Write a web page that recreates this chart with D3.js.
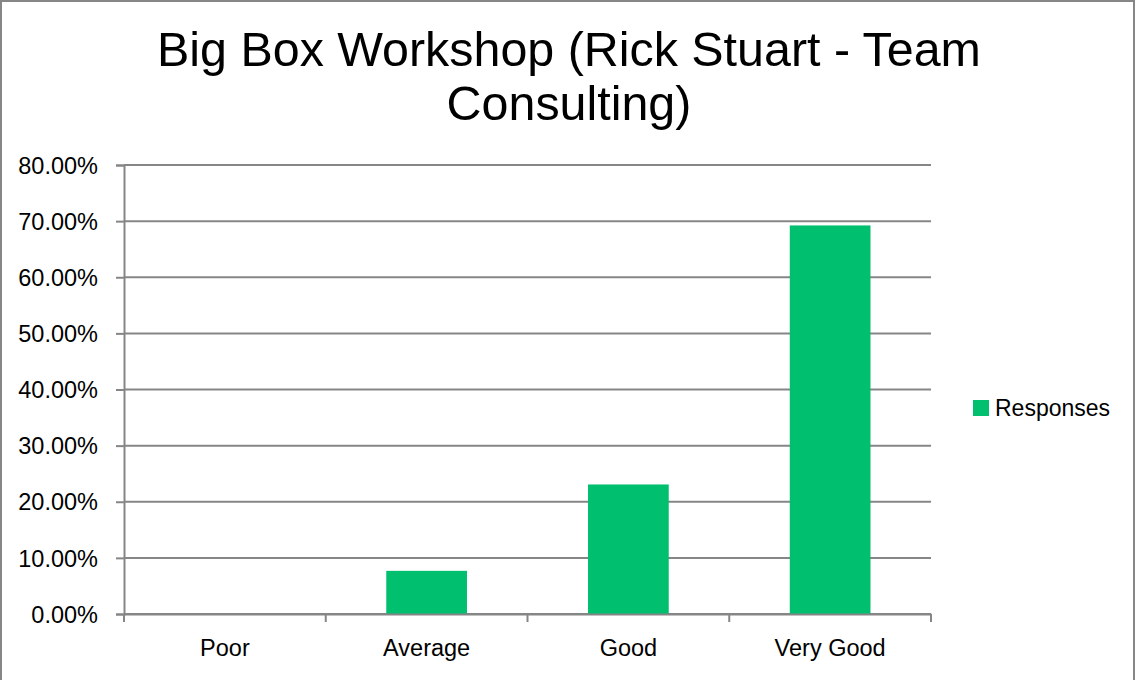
<!DOCTYPE html>
<html>
<head>
<meta charset="utf-8">
<script src="https://cdn.jsdelivr.net/npm/d3@7"></script>
<style>
  body { margin: 0; background: #fff; }
  svg { display: block; }
  .tick text { font-family: "Liberation Sans Narrow", "Arial Narrow", "Liberation Sans", sans-serif; font-size: 23.5px; fill: #000; }
</style>
</head>
<body>
<svg id="chart" width="1136" height="680"></svg>
<script>
// chart data
var categories = ["Poor", "Average", "Good", "Very Good"];
var responses = [0, 0.0769, 0.2308, 0.6923];
var yTicks = [0, 0.1, 0.2, 0.3, 0.4, 0.5, 0.6, 0.7, 0.8];
var titleLines = ["Big Box Workshop (Rick Stuart - Team", "Consulting)"];
var seriesName = "Responses";

var width = 1136, height = 680;
var margin = {left: 124, right: 205, top: 165, bottom: 66};
var barColor = "#00bf6f", gridColor = "#868686";

var svg = d3.select("#chart");

// outer frame
svg.append("rect")
    .attr("x", 1).attr("y", 1)
    .attr("width", width - 3).attr("height", height + 10)
    .attr("fill", "none").attr("stroke", gridColor).attr("stroke-width", 2);

var x = d3.scaleBand()
    .domain(categories)
    .range([margin.left, width - margin.right])
    .paddingInner(0.6).paddingOuter(0.3);

var y = d3.scaleLinear()
    .domain([0, 0.8])
    .range([height - margin.bottom, margin.top]);

// gridlines
svg.append("g")
    .selectAll("line")
    .data(yTicks)
    .join("line")
    .attr("x1", margin.left).attr("x2", width - margin.right)
    .attr("y1", d => y(d)).attr("y2", d => y(d))
    .attr("stroke", gridColor).attr("stroke-width", 2);

// bars
svg.append("g")
    .selectAll("rect")
    .data(responses)
    .join("rect")
    .attr("x", (d, i) => x(categories[i]))
    .attr("width", x.bandwidth())
    .attr("y", d => y(d))
    .attr("height", d => y(0) - y(d))
    .attr("fill", barColor);

// y axis
var yAxis = svg.append("g")
    .attr("transform", "translate(" + margin.left + ",0)")
    .call(d3.axisLeft(y).tickValues(yTicks).tickFormat(d3.format(".2%")).tickSize(8).tickPadding(18));
yAxis.selectAll("line, path").attr("stroke", gridColor).attr("stroke-width", 2);
yAxis.selectAll("text").attr("dy", "0.35em");

// x axis with ticks at band boundaries
var xAxis = svg.append("g")
    .attr("transform", "translate(0," + y(0) + ")")
    .call(d3.axisBottom(x).tickSize(0).tickPadding(25));
xAxis.select(".domain").attr("stroke", gridColor).attr("stroke-width", 2);
var step = (width - margin.right - margin.left) / categories.length;
xAxis.append("g")
    .selectAll("line")
    .data(d3.range(categories.length + 1))
    .join("line")
    .attr("x1", d => margin.left + d * step).attr("x2", d => margin.left + d * step)
    .attr("y1", 0).attr("y2", 8)
    .attr("stroke", gridColor).attr("stroke-width", 2);

// title
svg.append("text")
    .attr("text-anchor", "middle")
    .attr("font-family", "Liberation Sans, Arial, sans-serif")
    .attr("font-size", 48.4)
    .selectAll("tspan")
    .data(titleLines)
    .join("tspan")
    .attr("x", 569)
    .attr("y", (d, i) => 66 + i * 54)
    .text(d => d);

// legend
var legend = svg.append("g").attr("transform", "translate(973,400)");
legend.append("rect").attr("width", 16).attr("height", 16).attr("fill", barColor);
legend.append("text")
    .attr("x", 22).attr("y", 8).attr("dy", "0.35em")
    .attr("font-family", "Liberation Sans Narrow, Arial Narrow, sans-serif")
    .attr("font-size", 23)
    .text(seriesName);
</script>
</body>
</html>
